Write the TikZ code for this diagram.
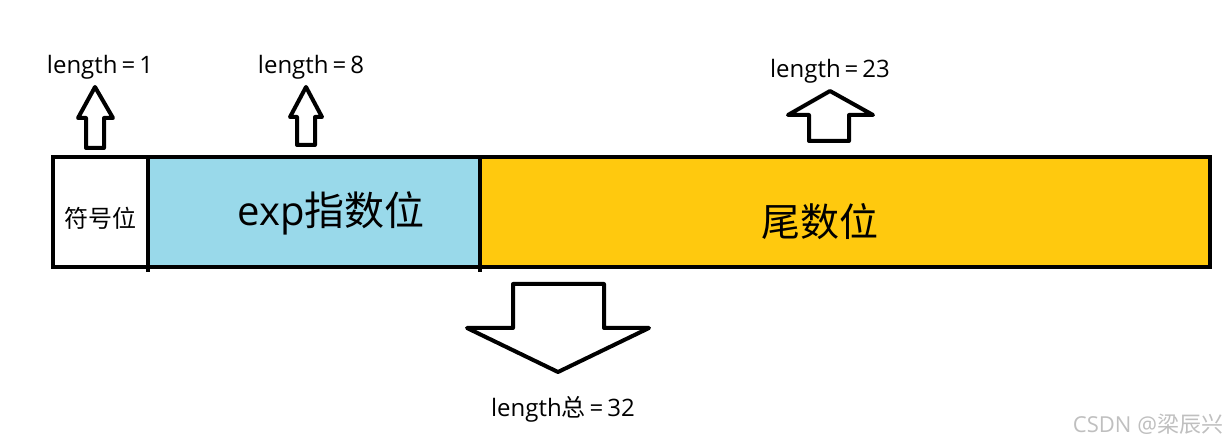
\documentclass[tikz,border=0pt]{standalone}
\usepackage{fontspec}
\setmainfont{Open Sans}
\newfontfamily\cjk{Noto Sans CJK SC}
\usetikzlibrary{positioning}
\definecolor{expblue}{HTML}{99D9EA}
\definecolor{tailgold}{HTML}{FFC90E}

\begin{document}
\begin{tikzpicture}[x=1pt,y=-1pt,line width=4pt,
  lbl/.style={font=\fontsize{24}{24}\selectfont,inner sep=0pt},
  midtxt/.style={font=\fontsize{24}{24}\selectfont\cjk,inner sep=0pt},
  bigtxt/.style={font=\fontsize{40}{40}\selectfont,inner sep=0pt},
  blockarr/.style={draw=black,fill=white,line width=4pt,line join=round}]
\useasboundingbox (0,0) rectangle (1232,443);
% the three fields
\fill[white] (53,157) rectangle (148,267);
\fill[expblue] (148,157) rectangle (480,267);
\fill[tailgold] (480,157) rectangle (1210,267);
\draw (53,157) rectangle (1210,267);
\draw (148,157) -- (148,272);
\draw (480,157) -- (480,272);
\node[midtxt] (sign) at (100,218) {符号位};
\node[bigtxt] (expo) at (331,213) {exp{\cjk 指数位}};
\node[bigtxt,font=\fontsize{39}{39}\selectfont\cjk] (tail) at (820,222) {尾数位};
% lengths
\node[lbl] (lsign) at (100,67) {length\,=\,1};
\node[lbl] (lexpo) at (311,67) {length\,=\,8};
\node[lbl] (ltail) at (830,71) {length\,=\,23};
\node[lbl] (ltotal) at (563,409) {length{\cjk 总}\,=\,32};
% block arrows
\draw[blockarr] (86,148) -- (86,118) -- (78,118) -- (95,87) -- (113,118) -- (104,118) -- (104,148) -- cycle;
\draw[blockarr] (297,145) -- (297,117) -- (290,117) -- (306,87) -- (322,117) -- (315,117) -- (315,145) -- cycle;
\draw[blockarr] (809,141) -- (809,115) -- (788,115) -- (830,91) -- (873,115) -- (849,115) -- (849,141) -- cycle;
\draw[blockarr] (513,284) -- (513,328) -- (467,328) -- (558,372) -- (649,328) -- (604,328) -- (604,284) -- cycle;
\node[font=\fontsize{22}{22}\selectfont,inner sep=0pt,text=black!25] (mark) at (1148,424) {CSDN @{\cjk 梁辰兴}};
\end{tikzpicture}
\end{document}
